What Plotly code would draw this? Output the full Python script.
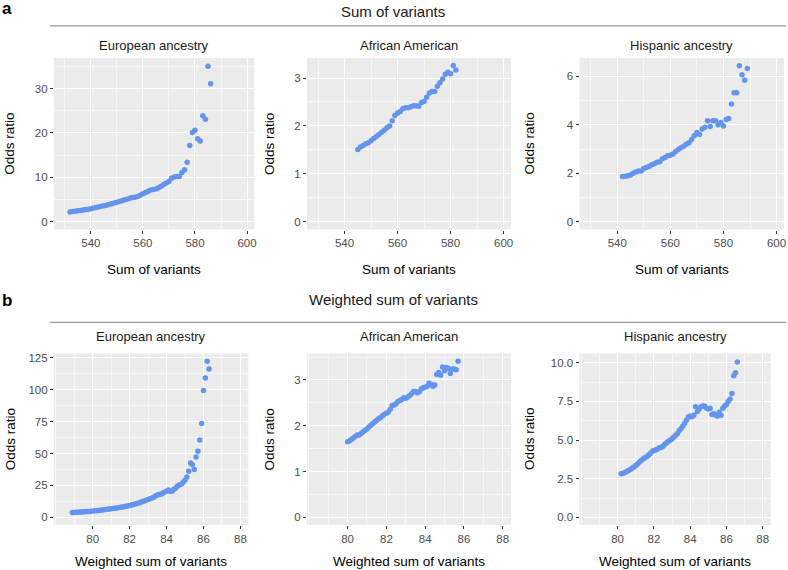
import numpy as np
import plotly.graph_objects as go

# ---------------- data ----------------
# Panel a: sum of variants (integer sums)
eur_sum_x = list(range(532, 587))
eur_sum_or = [2.2, 2.3, 2.4, 2.5, 2.55, 2.65, 2.75, 2.85, 2.95, 3.1,
              3.2, 3.35, 3.5, 3.6, 3.75, 3.9, 4.05, 4.25, 4.4, 4.55,
              4.75, 4.95, 5.1, 5.3, 5.45, 5.55, 5.7, 6.0, 6.3, 6.6,
              6.9, 7.15, 7.3, 7.4, 7.65, 8.0, 8.4, 8.75, 9.1, 9.8,
              10.1, 10.2, 10.2, 11.1, 11.7, 13.4, 17.2, 20.1, 20.6, 18.7,
              18.2, 23.9, 23.1, 35.0, 31.1]

afr_sum_x = list(range(545, 583))
afr_sum_or = [1.51, 1.56, 1.59, 1.63, 1.65, 1.69, 1.74, 1.78, 1.82, 1.87,
              1.91, 1.96, 2.0, 2.11, 2.22, 2.27, 2.30, 2.36, 2.38, 2.38,
              2.40, 2.42, 2.42, 2.41, 2.49, 2.51, 2.60, 2.69, 2.72, 2.72,
              2.83, 2.90, 2.98, 3.08, 3.12, 3.09, 3.26, 3.17]

his_sum_x = list(range(542, 590))
his_sum_or = [1.87, 1.88, 1.90, 1.93, 2.0, 2.05, 2.10, 2.10, 2.2, 2.24,
              2.28, 2.35, 2.40, 2.46, 2.48, 2.6, 2.65, 2.73, 2.75, 2.8,
              2.9, 2.98, 3.05, 3.12, 3.2, 3.26, 3.4, 3.55, 3.68, 3.6,
              3.83, 3.9, 4.17, 3.93, 4.17, 4.17, 4.0, 4.1, 3.95, 4.22,
              4.26, 4.86, 5.32, 5.32, 6.44, 6.07, 5.84, 6.32]

# Panel b: weighted sum of variants (bins of 0.1)
eur_w_start, afr_w_start, his_w_start = 78.9, 80.0, 80.2
eur_w_or = [3.7, 3.8, 3.9, 4.0, 4.1, 4.2, 4.3, 4.4, 4.5, 4.6,
            4.75, 4.9, 5.05, 5.2, 5.35, 5.5, 5.7, 5.9, 6.1, 6.3,
            6.5, 6.7, 6.9, 7.1, 7.3, 7.5, 7.8, 8.0, 8.3, 8.6,
            8.9, 9.2, 9.6, 10.0, 10.4, 10.8, 11.3, 11.8, 12.3, 12.8,
            13.3, 14.0, 14.5, 15.0, 15.8, 16.8, 17.5, 17.8, 18.0, 19.0,
            19.8, 20.5, 21.5, 20.5, 20.5, 22.0, 23.0, 24.5, 25.5, 26.0,
            27.5, 29.0, 31.6, 36.1, 42.6, 41.3, 37.6, 47.3, 51.8, 60.7,
            73.5, 99.4, 109.3, 122.4, 116.4]
afr_w_or = [1.65, 1.67, 1.70, 1.73, 1.77, 1.80, 1.80, 1.83, 1.87, 1.90,
            1.93, 1.97, 2.01, 2.05, 2.08, 2.12, 2.15, 2.18, 2.22, 2.25,
            2.27, 2.30, 2.36, 2.44, 2.45, 2.48, 2.53, 2.55, 2.57, 2.61,
            2.60, 2.63, 2.66, 2.70, 2.75, 2.75, 2.72, 2.74, 2.80, 2.83,
            2.84, 2.86, 2.93, 2.90, 2.86, 2.89, 3.12, 3.16, 3.10, 3.28,
            3.20, 3.27, 3.25, 3.14, 3.24, 3.24, 3.22, 3.41]
his_w_or = [2.82, 2.85, 2.90, 2.97, 3.03, 3.10, 3.17, 3.25, 3.35, 3.45,
            3.57, 3.68, 3.77, 3.85, 3.92, 4.02, 4.13, 4.25, 4.32, 4.36,
            4.42, 4.50, 4.52, 4.60, 4.72, 4.82, 4.92, 4.98, 5.08, 5.20,
            5.30, 5.42, 5.62, 5.75, 5.90, 6.10, 6.30, 6.48, 6.55, 6.50,
            6.60, 7.15, 6.85, 7.00, 7.15, 7.20, 7.18, 7.05, 7.00, 7.05,
            6.65, 6.70, 6.62, 6.55, 6.80, 6.60, 7.05, 7.20, 7.30, 7.50,
            7.65, 8.00, 9.15, 9.35, 10.05]


def bins(start, n):
    return [round(start + 0.1 * i, 1) for i in range(n)]


eur_w_x = bins(eur_w_start, len(eur_w_or))
afr_w_x = bins(afr_w_start, len(afr_w_or))
his_w_x = bins(his_w_start, len(his_w_or))

sum_xticks = [540, 560, 580, 600]
wsum_xticks = [80, 82, 84, 86, 88]

strip_titles = ["European ancestry", "African American", "Hispanic ancestry"]
row_titles = ["Sum of variants", "Weighted sum of variants"]
row_labels = ["a", "b"]
x_titles = ["Sum of variants", "Weighted sum of variants"]
y_title = "Odds ratio"

# ---------------- layout helpers ----------------
W, H = 788, 570
FONT = "Liberation Sans, Arial, Helvetica, sans-serif"
PT = "#6495ED"
BG = "#EBEBEB"


def px(x):
    return x / W


def py(y):
    return 1 - y / H


panels = [
    # (x, y, xdom px, ydom px, xrange, yrange, ydtick, yfmt, xticks, xminor)
    (eur_sum_x, eur_sum_or, (54, 255), (57, 229), (525.8, 602.8), (-1.75, 36.9), 10, None, sum_xticks, 10),
    (afr_sum_x, afr_sum_or, (307.7, 512.3), (57, 229), (525.8, 602.8), (-0.163, 3.42), 1, None, sum_xticks, 10),
    (his_sum_x, his_sum_or, (581, 786), (57, 229), (525.8, 602.8), (-0.32, 6.76), 2, None, sum_xticks, 10),
    (eur_w_x, eur_w_or, (54, 249), (353, 525), (77.9, 88.43), (-6.1, 128.6), 25, None, wsum_xticks, 1),
    (afr_w_x, afr_w_or, (307.7, 512.3), (353, 525), (77.9, 88.43), (-0.17, 3.58), 1, None, wsum_xticks, 1),
    (his_w_x, his_w_or, (581, 772.5), (353, 525), (77.9, 88.43), (-0.5, 10.6), 2.5, ".1f", wsum_xticks, 1),
]

fig = go.Figure()
annotations = []
shapes = []

for i, (xs, ys, xd, yd, xr, yr, ydt, yfmt, xtv, xmin) in enumerate(panels):
    n = i + 1
    xa = "x" if n == 1 else f"x{n}"
    ya = "y" if n == 1 else f"y{n}"
    fig.add_trace(go.Scatter(x=xs, y=ys, mode="markers", xaxis=xa, yaxis=ya,
                             marker=dict(color=PT, size=5.5, line=dict(width=0)),
                             showlegend=False, hoverinfo="x+y"))
    common = dict(showgrid=True, gridcolor="white", gridwidth=1.1, zeroline=False,
                  showline=False, ticks="outside", ticklen=3, tickwidth=1,
                  tickcolor="#333333", tickfont=dict(family=FONT, size=11.5, color="#4D4D4D"),
                  fixedrange=True)
    xkey = "xaxis" if n == 1 else f"xaxis{n}"
    ykey = "yaxis" if n == 1 else f"yaxis{n}"
    fig.layout[xkey] = dict(common, domain=[px(xd[0]), px(xd[1])], range=list(xr),
                            tickmode="array", tickvals=xtv, anchor=ya,
                            minor=dict(tickmode="linear", dtick=xmin, tick0=0, showgrid=True,
                                       gridcolor="#F7F7F7", gridwidth=0.5, ticks=""))
    ydict = dict(common, domain=[py(yd[1]), py(yd[0])], range=list(yr),
                 tick0=0, dtick=ydt, anchor=xa,
                 minor=dict(dtick=ydt / 2, tick0=0, showgrid=True,
                            gridcolor="#F7F7F7", gridwidth=0.5, ticks=""))
    if yfmt:
        ydict["tickformat"] = yfmt
    fig.layout[ykey] = ydict
    # panel background
    shapes.append(dict(type="rect", xref="paper", yref="paper", layer="below",
                       x0=px(xd[0]), x1=px(xd[1]), y0=py(yd[1]), y1=py(yd[0]),
                       fillcolor=BG, line=dict(width=0)))
    # strip title
    row = 0 if n <= 3 else 1
    col = (n - 1) % 3
    strip_y = 45 if row == 0 else 336
    annotations.append(dict(text=strip_titles[col], xref="paper", yref="paper",
                            x=px((xd[0] + xd[1]) / 2), y=py(strip_y),
                            xanchor="center", yanchor="middle", showarrow=False,
                            font=dict(family=FONT, size=13, color="#1A1A1A")))
    # x axis title
    xt_y = 269 if row == 0 else 561
    annotations.append(dict(text=x_titles[row], xref="paper", yref="paper",
                            x=px((xd[0] + xd[1]) / 2), y=py(xt_y),
                            xanchor="center", yanchor="middle", showarrow=False,
                            font=dict(family=FONT, size=13.5, color="black")))
    # y axis title
    yt_x = [10, 270, 531][col]
    annotations.append(dict(text=y_title, xref="paper", yref="paper",
                            x=px(yt_x), y=py((yd[0] + yd[1]) / 2), textangle=-90,
                            xanchor="center", yanchor="middle", showarrow=False,
                            font=dict(family=FONT, size=13.5, color="black")))

# row headers, labels and rules
for r, (ty, ly, liney) in enumerate([(11, 8, 25), (299, 300, 322)]):
    annotations.append(dict(text=row_titles[r], xref="paper", yref="paper",
                            x=px(394), y=py(ty), xanchor="center", yanchor="middle",
                            showarrow=False, font=dict(family=FONT, size=15, color="#1A1A1A")))
    annotations.append(dict(text=f"<b>{row_labels[r]}</b>", xref="paper", yref="paper",
                            x=px(0), y=py(ly), xanchor="left", yanchor="middle",
                            showarrow=False, font=dict(family=FONT, size=17, color="black")))
    shapes.append(dict(type="line", xref="paper", yref="paper",
                       x0=px(50), x1=1, y0=py(liney), y1=py(liney),
                       line=dict(color="#9A9A9A", width=1.2)))

fig.update_layout(width=W, height=H, margin=dict(l=0, r=0, t=0, b=0),
                  paper_bgcolor="white", plot_bgcolor="rgba(0,0,0,0)",
                  annotations=annotations, shapes=shapes,
                  font=dict(family=FONT))

fig.write_html("out.html", config={"displayModeBar": False},
               post_script="document.body.style.margin='0';"
                           "document.body.style.overflow='hidden';"
                           "window.scrollTo(0,0);")
